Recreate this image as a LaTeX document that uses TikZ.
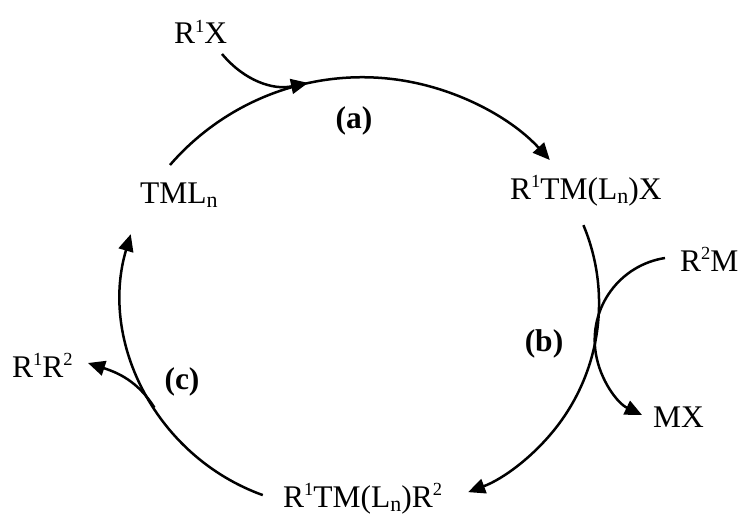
\documentclass[tikz,border=0pt]{standalone}
\usepackage{fontspec}
\setmainfont{Liberation Serif}
\usetikzlibrary{arrows.meta}
\newcommand\mysup[1]{\raisebox{11.5pt}{\fontsize{18.5}{18.5}\selectfont #1}}
\newcommand\mysub[1]{\raisebox{-4pt}{\fontsize{22}{22}\selectfont #1}}
\begin{document}
\begin{tikzpicture}[x=1pt,y=1pt,
  lbl/.style={anchor=base west, inner sep=0pt, font=\fontsize{31.5}{36}\selectfont},
  steplbl/.style={anchor=base, inner sep=0pt, font=\fontsize{31.5}{36}\selectfont\bfseries},
  conn/.style={line width=2.5pt, -{Triangle[length=17pt,width=15pt]}}]
\useasboundingbox (0,0) rectangle (744,515);
% species
\node[lbl] (r1x) at (174,471) {R\mysup{1}X};
\node[lbl] (tml) at (140,312) {TML\mysub{n}};
\node[lbl] (r1tmx) at (510,316) {R\mysup{1}TM(L\mysub{n})X};
\node[lbl] (r2m) at (680,244) {R\mysup{2}M};
\node[lbl] (mx) at (653,88) {MX};
\node[lbl] (r1tmr2) at (283,8) {R\mysup{1}TM(L\mysub{n})R\mysup{2}};
\node[lbl] (r1r2) at (12,138) {R\mysup{1}R\mysup{2}};
% step labels
\node[steplbl] (la) at (354,386) {(a)};
\node[steplbl] (lb) at (544,164) {(b)};
\node[steplbl] (lc) at (182,126) {(c)};
% end points
\coordinate (aS) at (170,350);
\coordinate (bS) at (583.4,289.9);
\coordinate (cS) at (262.8,19.9);
\coordinate (xS) at (222,461);
\coordinate (xE) at (308,432.1);
\coordinate (mS) at (665,257);
\coordinate (pS) at (154.4,107.4);
\coordinate (pE) at (88,152);
% cycle arcs
\draw[conn] (aS) arc[start angle=139.1, end angle=42.4, radius=254.2];
\draw[conn] (bS) arc[start angle=22.7, end angle=-69.4, radius=202];
\draw[conn] (cS) arc[start angle=250.2, end angle=163.5, radius=213];
% side arrows
\draw[conn] (xS) to[out=-50, in=192] (xE);
\draw[conn] (mS) arc[start angle=98.8, end angle=244.5, radius=83];
\draw[conn] (pS) to[out=122, in=-18] (pE);
\end{tikzpicture}
\end{document}
